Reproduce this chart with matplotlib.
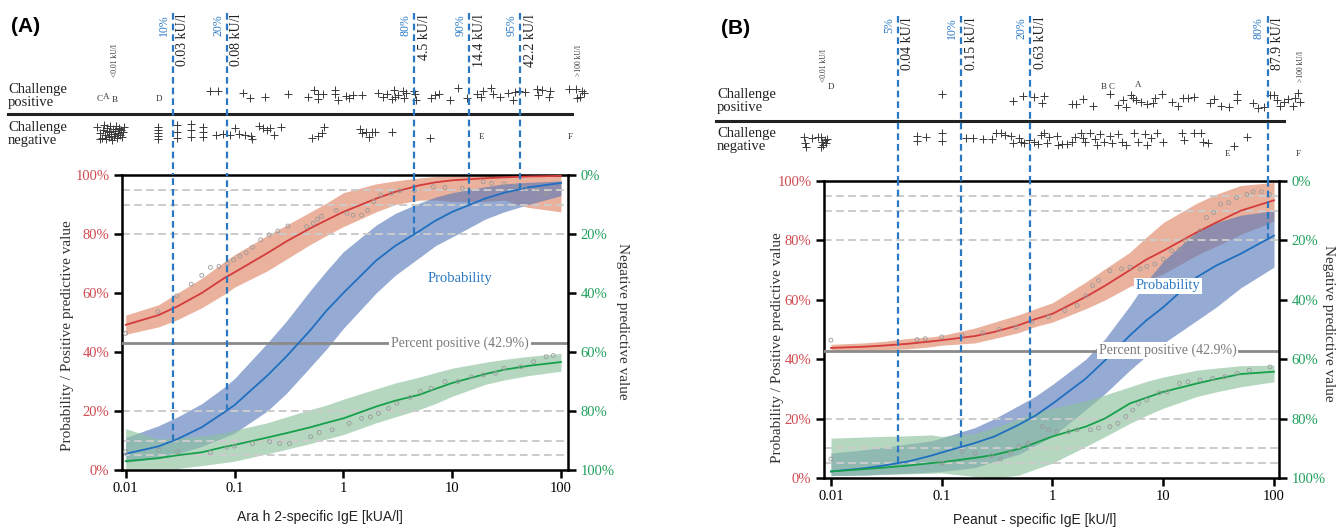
import matplotlib
import matplotlib.pyplot as plt
from matplotlib.ticker import NullLocator

matplotlib.use('Agg')

SERIF = 'Liberation Serif'
SANS = 'Liberation Sans'
W, H = 1336, 529

RED = '#cf4a50'
GREEN = '#22a05e'
BLUE = '#2a78c2'
DARK = '#333333'

# IgE grid (kU/l) shared by all curves
grid = [0.01, 0.02, 0.03, 0.05, 0.08, 0.1, 0.2, 0.3, 0.5, 0.7, 1, 2, 3, 5, 7, 10, 20, 30, 50, 100]

# ---- panel A (Ara h 2) ----
a_ppv = [49.2, 52.5, 55.5, 60, 65, 67, 73.5, 77.5, 82, 84.7, 87.5, 92, 94.3, 96.5, 97.5, 98.2, 98.9, 99.2, 99.5, 99.7]
a_ppv_lo = [46, 48.5, 51, 55, 59.5, 62, 67.5, 71.5, 76.5, 79.5, 82.5, 87.5, 90, 91.5, 91.5, 91, 91, 91.5, 89, 87.5]
a_ppv_hi = [52.5, 56, 60, 65, 70.5, 73, 79.5, 83, 87.5, 90.5, 94, 97, 98, 99, 99.5, 99.7, 99.8, 99.8, 99.8, 99.8]
a_prob = [5.5, 8, 10.5, 14.5, 19.5, 22, 32, 38.5, 47.5, 54, 60, 71, 76, 81, 84.5, 87.5, 92, 94, 95.8, 97.3]
a_prob_lo = [2.5, 4, 5.5, 8, 11, 12.5, 20, 26, 35, 41, 48, 60, 66, 72, 76, 79, 85, 87.5, 90, 93]
a_prob_hi = [11, 15, 18, 22.5, 28, 31, 43, 50.5, 61, 67.5, 74, 83, 87, 90.5, 92.5, 94, 96, 97, 97.5, 98]
# 100% - NPV, drawn on the left scale
a_npv = [3, 4, 5, 6, 7.8, 8.5, 11, 12.5, 14.5, 16, 17.5, 21.5, 23.5, 25.5, 27.5, 29.5, 32.5, 34, 35.3, 36.6]
a_npv_lo = [0.5, 0.5, 0.5, 1.5, 2.5, 3, 5.5, 7, 9, 10.5, 12, 16, 18, 20.5, 22.5, 25, 29, 30.5, 32, 33.5]
a_npv_hi = [14, 10.5, 11, 11.5, 12.5, 13.5, 16, 18, 20.5, 22, 24, 27.5, 29.5, 31.5, 33, 34.5, 36.5, 37.5, 38.5, 39.5]

a_ppv_obs_x = [0.01, 0.0198, 0.0295, 0.04, 0.05, 0.06, 0.072, 0.086, 0.098, 0.112, 0.128, 0.146, 0.174, 0.208, 0.25,
               0.31, 0.46, 0.53, 0.58, 0.63, 0.86, 1.08, 1.23, 1.47, 1.67, 1.9, 2.2, 2.75, 3.3, 4.5,
               6.7, 8.6, 12.4, 19.3, 23, 30, 39, 46, 61, 73]
a_ppv_obs_y = [46.3, 53.7, 59, 63, 66, 68.7, 69, 70, 71.2, 72.5, 73.7, 75.5, 78, 79.7, 81,
               82.7, 82.5, 83.6, 85, 86, 88, 87, 86.4, 86.4, 88, 91, 93.2, 93.8, 94.7, 94.7,
               96, 95.8, 95.5, 97.7, 97.2, 97, 96.3, 95.5, 94.7, 93.8]
a_npv_obs_x = [0.01, 0.02, 0.03, 0.06, 0.085, 0.1, 0.146, 0.21, 0.26, 0.32, 0.5, 0.6, 0.79, 1.13, 1.47,
               1.77, 2.1, 2.6, 3.1, 4.1, 5.1, 6.4, 8.6, 11.3, 15, 19.3, 25, 30, 43, 56, 73, 85]
a_npv_obs_y = [6.2, 6.8, 6.2, 5.9, 7.7, 8.1, 9, 9.6, 9, 9, 11.3, 12.7, 13.6, 15.8, 17.5,
               18, 19.2, 20.9, 22.6, 24.6, 26.6, 27.7, 30, 30, 31.6, 32.2, 32.8, 34.5, 35, 36.7, 38.4, 38.8]

a_cut_x = [0.027, 0.085, 4.5, 14.4, 42.2]
a_cut_p = [10, 20, 80, 90, 95]
a_cut_lab = ['0.03 kU/l', '0.08 kU/l', '4.5 kU/l', '14.4 kU/l', '42.2 kU/l']

# challenge outcome strip (IgE, vertical jitter)
a_pos_x = [0.060, 0.071, 0.12, 0.14, 0.19, 0.31, 0.47, 0.54, 0.58, 0.59, 0.65, 0.83, 0.83, 0.90, 1.05,
           1.13, 1.23, 1.47, 2.1, 2.3, 2.5, 2.8, 2.9, 3.0, 3.2, 3.5, 3.6, 3.8, 4.5, 4.6,
           4.7, 6.4, 7.0, 7.6, 9.5, 11.4, 13.6, 16.9, 18.5, 19.3, 22.7, 23.5, 27.6, 32.4, 36,
           37.6, 41, 47, 60, 61, 67, 77, 80, 119, 136, 156, 139, 149, 163]
a_pos_y = [91, 91, 93, 98, 97, 94, 97, 90, 94, 99, 94, 90, 94, 100, 96,
           98, 95, 95, 93, 97, 94, 99, 90, 97, 95, 91, 98, 93, 91, 94,
           100, 98, 95, 94, 100, 88, 98, 94, 97, 91, 88, 94, 97, 93, 100,
           92, 91, 92, 89, 95, 90, 97, 91, 89, 89, 91, 98, 97, 93]
a_neg_x = [0.0055, 0.0058, 0.006, 0.0062, 0.0063, 0.0065, 0.0066, 0.0068, 0.007, 0.0071, 0.0072, 0.0074,
           0.0075, 0.0077, 0.0078, 0.008, 0.0081, 0.0083, 0.0085, 0.0086, 0.0088, 0.009, 0.0092, 0.0094,
           0.0096, 0.0058, 0.0067, 0.0073, 0.0079, 0.0087,
           0.0197, 0.0197, 0.0197, 0.0197, 0.0197,
           0.0294, 0.0294, 0.0294, 0.040, 0.040, 0.040, 0.051, 0.051, 0.051,
           0.068, 0.078, 0.09, 0.10, 0.111, 0.124, 0.143, 0.146, 0.169, 0.184, 0.20, 0.21, 0.23, 0.27,
           0.52, 0.58, 0.64, 0.67, 1.41, 1.50, 1.61, 1.73, 1.84, 1.97, 2.79, 6.2]
a_neg_y = [127, 133, 138, 130, 125, 135, 139, 128, 132, 137, 126, 134,
           140, 129, 136, 131, 126, 138, 133, 128, 135, 130, 137, 132,
           127, 139, 131, 136, 134, 129,
           127, 130, 133, 136, 139,
           125, 132, 138, 124, 130, 137, 127, 132, 137,
           135, 134, 135, 128, 134, 135, 136, 139, 126, 128, 130, 128, 135, 127,
           138, 136, 133, 127, 129, 133, 132, 137, 132, 132, 132, 138]
a_let = ['C', 'A', 'B', 'D', 'E', 'F']
a_let_x = [0.00577, 0.00656, 0.0079, 0.0201, 18.8, 121]
a_let_y = [99, 97, 100, 99, 137, 137]

# ---- panel B (peanut) ----
b_ppv = [43.8, 44.2, 44.6, 45.2, 46, 46.4, 47.8, 49.2, 51.5, 53.5, 55.3, 61, 64.8, 70, 73.5, 76.5, 82.7, 86, 90, 93.5]
b_ppv_lo = [43, 43, 43.2, 43.5, 44.2, 44.7, 45.5, 47, 49, 51, 52.5, 57, 60, 64.5, 66.5, 68.7, 75, 78, 82, 86.5]
b_ppv_hi = [45, 45.5, 46, 47, 47.5, 48, 50.5, 52.5, 55, 57, 59, 66, 70.5, 76, 81, 86, 92.5, 95.5, 98.5, 99.5]
b_prob = [2.2, 3.3, 4.2, 5.6, 7.5, 8.6, 11.8, 14, 18, 21, 25, 33.5, 39.7, 48, 53, 57.5, 67.6, 71.5, 75.5, 81.6]
b_prob_lo = [0.8, 1, 1.3, 1.6, 2, 2.2, 3.5, 5.6, 8, 11, 14, 23, 28.5, 36.3, 41, 45.3, 53, 57.5, 64, 71]
b_prob_hi = [8.4, 9.5, 10.3, 11.5, 12.5, 13.5, 17, 20, 24.5, 27.5, 31.5, 40, 47, 58, 66, 73, 83, 86, 88.5, 90]
b_npv = [2.2, 3, 3.5, 4.2, 5, 5.3, 6.8, 7.8, 9.8, 11.8, 14, 17.3, 20.1, 25.1, 27, 29, 31.8, 33.3, 35, 35.8]
b_npv_lo = [0.8, 1, 1.2, 1.4, 1.6, 1.7, 0.5, 0, 1, 3, 5, 10.6, 14, 18.4, 21, 23.5, 27.4, 29, 30.7, 32.4]
b_npv_hi = [13.4, 13.8, 14, 14.2, 14.5, 14, 15, 17, 20, 22, 23.5, 26, 28, 30.7, 32.5, 34, 36.3, 37, 37.8, 38]

b_ppv_obs_x = [0.01, 0.06, 0.071, 0.1, 0.153, 0.235, 0.33, 0.47, 0.65, 0.92, 1.29, 1.67, 2.0, 2.3, 2.6,
               3.3, 4.2, 5.0, 6.2, 7.1, 8.4, 10, 11.9, 14, 15.9, 19, 21.5, 24.6, 28.5, 33,
               39, 46, 57, 65, 77, 91]
b_ppv_obs_y = [46.4, 46.6, 46.9, 47.5, 48, 48.8, 50, 50.8, 52.5, 54.2, 56.4, 58.1, 61.4, 64.8, 66.5,
               69.8, 70.4, 71, 70.4, 71.2, 72, 73.7, 76.5, 77, 79.9, 81, 83.2, 87.7, 89.4, 92.2,
               92.7, 94.4, 95.5, 96.4, 96.4, 95.5]
b_npv_obs_x = [0.01, 0.1, 0.153, 0.2, 0.28, 0.34, 0.42, 0.5, 0.6, 0.81, 0.92, 1.09, 1.4, 1.67, 2.2,
               2.6, 3.3, 3.9, 4.6, 5.3, 6, 7.1, 9.2, 10.9, 14, 16.7, 21.5, 27.9, 36, 46.5, 60, 92]
b_npv_obs_y = [6.4, 5, 8.9, 8.4, 7.5, 6.4, 8.4, 10.6, 11.7, 17.3, 16.2, 15.6, 15.6, 16.2, 16.2,
               16.8, 17.3, 18.4, 20.7, 22.9, 25.1, 26.3, 28.7, 29, 31.8, 32.4, 33, 33.5, 34.1, 35.2, 36.3, 37.4]

b_cut_x = [0.04, 0.15, 0.63, 87.9]
b_cut_p = [5, 10, 20, 80]
b_cut_lab = ['0.04 kU/l', '0.15 kU/l', '0.63 kU/l', '87.9 kU/l']

b_pos_x = [0.10, 0.44, 0.54, 0.68, 0.83, 0.81, 1.5, 1.64, 1.9, 2.3, 3.3, 3.9, 4.3, 4.6, 5.1,
           5.3, 5.7, 6.3, 7.1, 8.1, 8.4, 9.8, 12.1, 13.5, 15.1, 16.7, 19, 26.7, 29, 33,
           39, 46, 46.5, 65, 72, 81, 92, 100, 107, 114, 124, 135, 147, 156, 164, 170]
b_pos_y = [94, 101, 96, 97, 96, 103, 104, 104, 99, 106, 94, 105, 100, 107, 95,
           98, 100, 102, 104, 103, 98, 94, 102, 106, 98, 98, 97, 103, 99, 106,
           107, 100, 94, 103, 108, 107, 95, 95, 100, 106, 102, 99, 106, 98, 93, 102]
b_neg_x = [0.0057, 0.0058, 0.006, 0.0068, 0.0077, 0.0081, 0.0083, 0.0085, 0.0088, 0.009, 0.0092, 0.0081,
           0.06, 0.06, 0.072, 0.10, 0.10,
           0.167, 0.193, 0.235, 0.283, 0.31, 0.34, 0.37, 0.42, 0.44, 0.50, 0.52, 0.55, 0.61, 0.68, 0.74,
           0.79, 0.84, 0.90, 0.93, 1.09, 1.13, 1.23, 1.34, 1.5, 1.6, 1.8, 1.9, 1.98, 2.2, 2.4,
           2.5, 2.7, 2.9, 3.3, 3.45, 3.9, 4.2, 4.6, 5.4, 5.9, 6.8, 7.1, 7.7, 8.8, 10,
           14.8, 15.4, 19, 21.8, 23, 25.5, 44, 57]
b_neg_y = [137, 143, 147, 138, 137, 137, 142, 145, 140, 143, 139, 147,
           136, 141, 137, 133, 141,
           138, 138, 139, 139, 133, 133, 135, 136, 143, 138, 142, 143, 140, 142, 144,
           135, 133, 143, 137, 136, 145, 144, 144, 142, 137, 133, 138, 142, 133, 139,
           145, 134, 142, 136, 143, 134, 142, 145, 133, 142, 134, 145, 138, 133, 142,
           133, 140, 133, 133, 142, 143, 146, 137]
b_let = ['D', 'B', 'C', 'A', 'E', 'F']
b_let_x = [0.01, 2.88, 3.4, 5.96, 37.8, 164]
b_let_y = [87, 87, 87, 85, 154, 154]

PERCENT_POS = 42.9
REF_LINES = [5, 10, 20, 80, 90, 95]


def px_rect(left, top, right, bottom):
    return [left / W, 1 - bottom / H, (right - left) / W, (bottom - top) / H]


def draw_panel(fig, d):
    l, t, r, b = d['box']
    ax = fig.add_axes(px_rect(l, t, r, b))
    ax.set_xscale('log')
    ax.set_xlim(d['xlim'])
    ax.set_ylim(0, 100)

    ax.fill_between(grid, d['ppv_lo'], d['ppv_hi'], color='#e4977c', alpha=0.75, lw=0, zorder=1)
    ax.fill_between(grid, d['prob_lo'], d['prob_hi'], color='#5678b8', alpha=0.62, lw=0, zorder=1.1)
    ax.fill_between(grid, d['npv_lo'], d['npv_hi'], color='#8ec29f', alpha=0.65, lw=0, zorder=1.2)
    for p in REF_LINES:
        ax.axhline(p, color='#cbcbcb', lw=1.4, dashes=(4, 2.2), zorder=2)
    ax.axhline(PERCENT_POS, color='#8a8a8a', lw=2, zorder=3)

    ax.plot(grid, d['ppv'], color='#d43c3c', lw=1.3, zorder=4)
    ax.plot(grid, d['prob'], color='#1f6fc0', lw=1.3, zorder=4)
    ax.plot(grid, d['npv'], color='#16a04c', lw=1.3, zorder=4)
    ax.scatter(d['ppv_obs_x'], d['ppv_obs_y'], s=8, facecolors='none', edgecolors='#9a9a9a', lw=0.6, zorder=4)
    ax.scatter(d['npv_obs_x'], d['npv_obs_y'], s=8, facecolors='none', edgecolors='#9a9a9a', lw=0.6, zorder=4)

    ax.vlines(d['cut_x'], d['cut_p'], 100, colors=BLUE, lw=1.6, linestyles=(0, (3, 1.8)), zorder=5)

    ax.text(d['prob_lab'][0], d['prob_lab'][1], 'Probability', color=BLUE, family=SERIF, fontsize=10.5,
            ha='center', va='center', zorder=6,
            bbox=dict(boxstyle='square,pad=0.1', fc='white', ec='none') if d['prob_box'] else None)
    ax.text(d['perc_x'], PERCENT_POS, 'Percent positive (42.9%)', color='#7a7a7a', family=SERIF,
            fontsize=10, ha='center', va='center', zorder=6,
            bbox=dict(boxstyle='square,pad=0.12', fc='white', ec='none'))

    ax.xaxis.set_minor_locator(NullLocator())
    ax.set_xticks([0.01, 0.1, 1, 10, 100])
    ax.set_xticklabels(['0.01', '0.1', '1', '10', '100'], family=SERIF, fontsize=10.5)
    ax.set_yticks([0, 20, 40, 60, 80, 100])
    ax.set_yticklabels(['0%', '20%', '40%', '60%', '80%', '100%'], family=SERIF, fontsize=10.5, color=RED)
    ax.tick_params(direction='out', length=6, width=1.8, pad=3)
    for s in ['left', 'bottom', 'top']:
        ax.spines[s].set_linewidth(1.8)
    ax.spines['right'].set_visible(False)

    ax2 = ax.twinx()
    ax2.set_ylim(0, 100)
    ax2.set_yticks([0, 20, 40, 60, 80, 100])
    ax2.set_yticklabels(['100%', '80%', '60%', '40%', '20%', '0%'], family=SERIF, fontsize=10.5, color=GREEN)
    ax2.tick_params(direction='out', length=6, width=1.8, pad=3)
    for s in ['left', 'bottom', 'top']:
        ax2.spines[s].set_visible(False)
    ax2.spines['right'].set_linewidth(1.8)

    fig.text(d['ylab_l'][0] / W, 1 - d['ylab_l'][1] / H, 'Probability / Positive predictive value',
             rotation=90, ha='center', va='center', family=SERIF, fontsize=11, color=DARK)
    fig.text(d['ylab_r'][0] / W, 1 - d['ylab_r'][1] / H, 'Negative predictive value',
             rotation=270, ha='center', va='center', family=SERIF, fontsize=11, color=DARK)
    fig.text(d['xlab'][0] / W, 1 - d['xlab'][1] / H, d['xlab_txt'],
             ha='center', va='center', family=SANS, fontsize=10, color='#222222')

    # challenge strip above the plot
    ss = fig.add_axes(px_rect(l, 0, r, t))
    ss.set_xscale('log')
    ss.set_xlim(d['xlim'])
    ss.set_ylim(t, 0)
    ss.axis('off')
    ss.plot(d['pos_x'], d['pos_y'], '+', ms=6, mew=0.7, color='#3a3a3a', clip_on=False)
    ss.plot(d['neg_x'], d['neg_y'], '+', ms=6, mew=0.7, color='#3a3a3a', clip_on=False)
    x0 = (d['line_span'][0] - l) / (r - l)
    x1 = (d['line_span'][1] - l) / (r - l)
    ss.plot([x0, x1], [d['line_y']] * 2, color='#222222', lw=2.2, clip_on=False,
            transform=ss.get_yaxis_transform())
    ss.vlines(d['cut_x'], d['cut_top'], t, colors=BLUE, lw=1.6, linestyles=(0, (3, 1.8)))
    for x, p, lab in zip(d['cut_x'], d['cut_p'], d['cut_lab']):
        ss.annotate(f'{p}%', xy=(x, d['cut_top'] + 1), xytext=(-2, 0), textcoords='offset points',
                    rotation=90, ha='right', va='top', color=BLUE, family=SERIF, fontsize=8.5)
        ss.annotate(lab, xy=(x, d['cut_top'] + 1), xytext=(2.5, 0), textcoords='offset points',
                    rotation=90, ha='left', va='top', color='#222222', family=SERIF, fontsize=10)
    for txt, x, y in zip(d['let'], d['let_x'], d['let_y']):
        ss.text(x, y, txt, fontsize=6.5, family=SERIF, ha='center', va='center', color=DARK)
    ss.text(d['lo_lab'][0], d['lo_lab'][1], '<0.01 kU/l', rotation=90, fontsize=5.5, family=SERIF,
            ha='center', va='center', color=DARK)
    ss.text(d['hi_lab'][0], d['hi_lab'][1], '>100 kU/l', rotation=90, fontsize=5.5, family=SERIF,
            ha='center', va='center', color=DARK)

    fig.text(d['row_x'] / W, 1 - d['row_pos'] / H, 'Challenge\npositive', family=SERIF, fontsize=10.5,
             ha='left', va='center', linespacing=1.05, color='#222222')
    fig.text(d['row_x'] / W, 1 - d['row_neg'] / H, 'Challenge\nnegative', family=SERIF, fontsize=10.5,
             ha='left', va='center', linespacing=1.05, color='#222222')
    fig.text(d['tag_xy'][0] / W, 1 - d['tag_xy'][1] / H, d['tag'], family=SANS, fontsize=15,
             fontweight='bold', ha='left', va='center')


panel_a = dict(box=(122, 175, 568, 470), xlim=(0.00925, 116),
               ppv=a_ppv, ppv_lo=a_ppv_lo, ppv_hi=a_ppv_hi,
               prob=a_prob, prob_lo=a_prob_lo, prob_hi=a_prob_hi,
               npv=a_npv, npv_lo=a_npv_lo, npv_hi=a_npv_hi,
               ppv_obs_x=a_ppv_obs_x, ppv_obs_y=a_ppv_obs_y, npv_obs_x=a_npv_obs_x, npv_obs_y=a_npv_obs_y,
               cut_x=a_cut_x, cut_p=a_cut_p, cut_lab=a_cut_lab, cut_top=13,
               prob_lab=(11.8, 65), prob_box=False, perc_x=11.8,
               pos_x=a_pos_x, pos_y=a_pos_y, neg_x=a_neg_x, neg_y=a_neg_y,
               let=a_let, let_x=a_let_x, let_y=a_let_y,
               lo_lab=(0.0079, 61), hi_lab=(146, 61),
               line_y=114, line_span=(8, 572), row_x=8, row_pos=96, row_neg=134,
               ylab_l=(67, 336), ylab_r=(622, 321), xlab=(320, 517),
               xlab_txt='Ara h 2-specific IgE [kUA/l]', tag='(A)', tag_xy=(11, 26))

panel_b = dict(box=(824, 181, 1279, 478), xlim=(0.00865, 111),
               ppv=b_ppv, ppv_lo=b_ppv_lo, ppv_hi=b_ppv_hi,
               prob=b_prob, prob_lo=b_prob_lo, prob_hi=b_prob_hi,
               npv=b_npv, npv_lo=b_npv_lo, npv_hi=b_npv_hi,
               ppv_obs_x=b_ppv_obs_x, ppv_obs_y=b_ppv_obs_y, npv_obs_x=b_npv_obs_x, npv_obs_y=b_npv_obs_y,
               cut_x=b_cut_x, cut_p=b_cut_p, cut_lab=b_cut_lab, cut_top=16,
               prob_lab=(11, 64.8), prob_box=True, perc_x=11,
               pos_x=b_pos_x, pos_y=b_pos_y, neg_x=b_neg_x, neg_y=b_neg_y,
               let=b_let, let_x=b_let_x, let_y=b_let_y,
               lo_lab=(0.00865, 66), hi_lab=(175, 66),
               line_y=121, line_span=(716, 1284), row_x=717, row_pos=101, row_neg=140,
               ylab_l=(777, 348), ylab_r=(1328, 323), xlab=(1035, 520),
               xlab_txt='Peanut - specific IgE [kU/l]', tag='(B)', tag_xy=(721, 29))

fig = plt.figure(figsize=(W / 100, H / 100), dpi=100)
draw_panel(fig, panel_a)
draw_panel(fig, panel_b)
fig.savefig('out.png', dpi=100)
